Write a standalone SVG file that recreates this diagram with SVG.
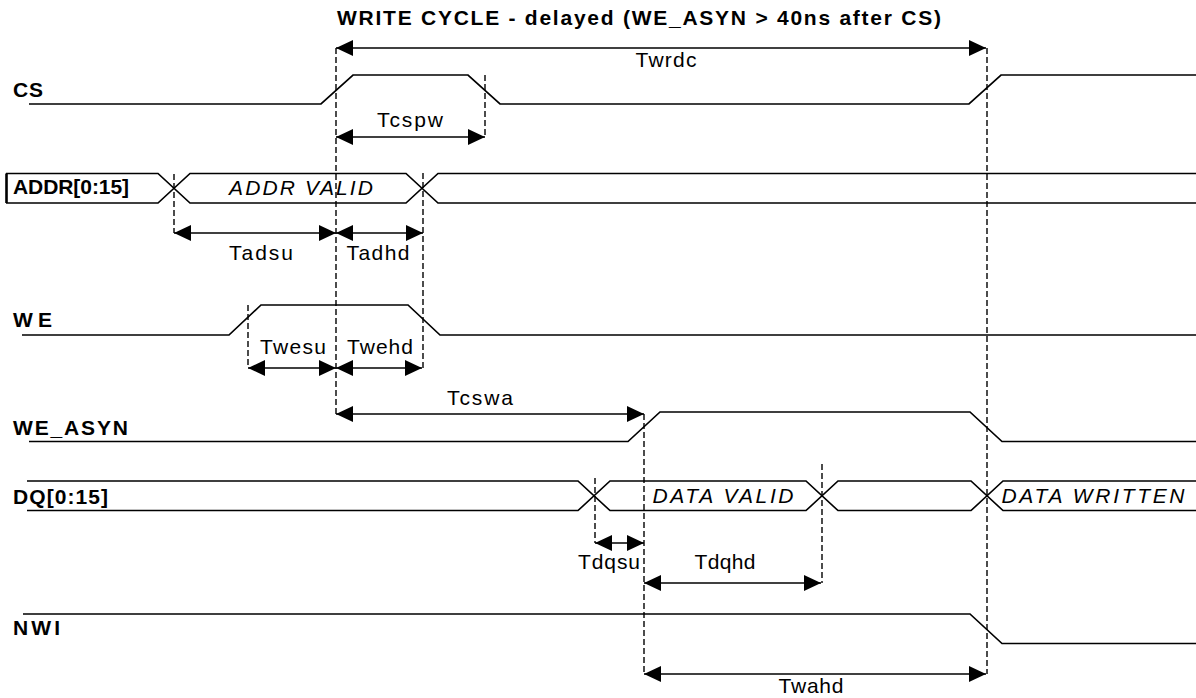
<svg xmlns="http://www.w3.org/2000/svg" width="1196" height="698" viewBox="0 0 1196 698">
<style>
.sig{fill:none;stroke:#000;stroke-width:1.7;stroke-linejoin:miter}
.dash{fill:none;stroke:#000;stroke-width:1.4;stroke-dasharray:6 3}
.arr{fill:none;stroke:#000;stroke-width:1.7;marker-start:url(#ah);marker-end:url(#ah)}
.lbl{font-family:"Liberation Sans",Arial,sans-serif;font-size:21px;font-weight:bold;fill:#000}
.tm{font-family:"Liberation Sans",Arial,sans-serif;font-size:21px;fill:#000;text-anchor:middle}
.it{font-family:"Liberation Sans",Arial,sans-serif;font-size:21px;font-style:italic;fill:#000;text-anchor:middle}
</style>
<defs>
<marker id="ah" markerUnits="userSpaceOnUse" markerWidth="18" markerHeight="18" refX="17" refY="8" orient="auto-start-reverse">
<path d="M0,0 L17,8 L0,16 z" fill="#000"/>
</marker>
</defs>
<rect width="1196" height="698" fill="#fff"/>
<text class="lbl" x="337" y="25" textLength="604" lengthAdjust="spacing">WRITE CYCLE - delayed (WE_ASYN &gt; 40ns after CS)</text>

<g id="cs">
<text class="lbl" x="13" y="97" textLength="30" lengthAdjust="spacing">CS</text>
<path class="sig" d="M29,104 H321 L353,75 H468 L500,104 H969 L1001,75 H1196"/>
</g>
<g id="addr">
<text class="lbl" x="13" y="194" textLength="116" lengthAdjust="spacing">ADDR[0:15]</text>
<path class="sig" d="M6.5,173.5 V203" style="stroke-width:2.6"/>
<path class="sig" d="M6,173.5 H158 L190,203 H406 L438,173.5 H1196"/>
<path class="sig" d="M6,203 H158 L190,173.5 H406 L438,203 H1196"/>
<text class="it" x="301" y="195" textLength="144" lengthAdjust="spacing">ADDR VALID</text>
</g>
<g id="we">
<text class="lbl" x="13" y="327" textLength="39" lengthAdjust="spacing">WE</text>
<path class="sig" d="M22,335 H229 L261,305 H408 L440,335 H1196"/>
</g>
<g id="we_asyn">
<text class="lbl" x="13" y="435" textLength="115" lengthAdjust="spacing">WE_ASYN</text>
<path class="sig" d="M29,441.5 H628 L660,412 H970 L1002,441.5 H1196"/>
</g>
<g id="dq">
<text class="lbl" x="13" y="504" textLength="95" lengthAdjust="spacing">DQ[0:15]</text>
<path class="sig" d="M27,481 H578 L610,510.5 H806 L838,481 H971 L1003,510.5 H1196"/>
<path class="sig" d="M27,510.5 H578 L610,481 H806 L838,510.5 H971 L1003,481 H1196"/>
<text class="it" x="723" y="503" textLength="141" lengthAdjust="spacing">DATA VALID</text>
<text class="it" x="1093" y="503" textLength="183" lengthAdjust="spacing">DATA WRITTEN</text>
</g>
<g id="nwi">
<text class="lbl" x="13" y="635" textLength="47" lengthAdjust="spacing">NWI</text>
<path class="sig" d="M23,614 H970 L1002,643.5 H1196"/>
</g>

<g id="connectors">
<path class="dash" d="M336,48 V414"/>
<path class="dash" d="M987,48 V674"/>
<path class="dash" d="M485,75 V137"/>
<path class="dash" d="M174,174 V233"/>
<path class="dash" d="M423,173 V368"/>
<path class="dash" d="M248,305 V368"/>
<path class="dash" d="M644,414 V674"/>
<path class="dash" d="M595,478 V543"/>
<path class="dash" d="M822,464 V583"/>

<line class="arr" x1="336" y1="48" x2="986" y2="48"/>
<line class="arr" x1="336" y1="137" x2="485" y2="137"/>
<line class="arr" x1="174" y1="233" x2="336" y2="233"/>
<line class="arr" x1="336" y1="233" x2="423" y2="233"/>
<line class="arr" x1="248" y1="368" x2="336" y2="368"/>
<line class="arr" x1="336" y1="368" x2="422" y2="368"/>
<line class="arr" x1="336" y1="414" x2="644" y2="414"/>
<line class="arr" x1="595" y1="543" x2="644" y2="543"/>
<line class="arr" x1="644" y1="583" x2="821" y2="583"/>
<line class="arr" x1="644" y1="674" x2="986" y2="674"/>

<text class="tm" x="666" y="67" textLength="61" lengthAdjust="spacing">Twrdc</text>
<text class="tm" x="410" y="127" textLength="66" lengthAdjust="spacing">Tcspw</text>
<text class="tm" x="261" y="260" textLength="64" lengthAdjust="spacing">Tadsu</text>
<text class="tm" x="378" y="260" textLength="63" lengthAdjust="spacing">Tadhd</text>
<text class="tm" x="293" y="354" textLength="66" lengthAdjust="spacing">Twesu</text>
<text class="tm" x="380" y="354" textLength="66" lengthAdjust="spacing">Twehd</text>
<text class="tm" x="480" y="405" textLength="66" lengthAdjust="spacing">Tcswa</text>
<text class="tm" x="609" y="569" textLength="62" lengthAdjust="spacing">Tdqsu</text>
<text class="tm" x="725" y="569" textLength="61" lengthAdjust="spacing">Tdqhd</text>
<text class="tm" x="811" y="693" textLength="65" lengthAdjust="spacing">Twahd</text>
</g>
</svg>
